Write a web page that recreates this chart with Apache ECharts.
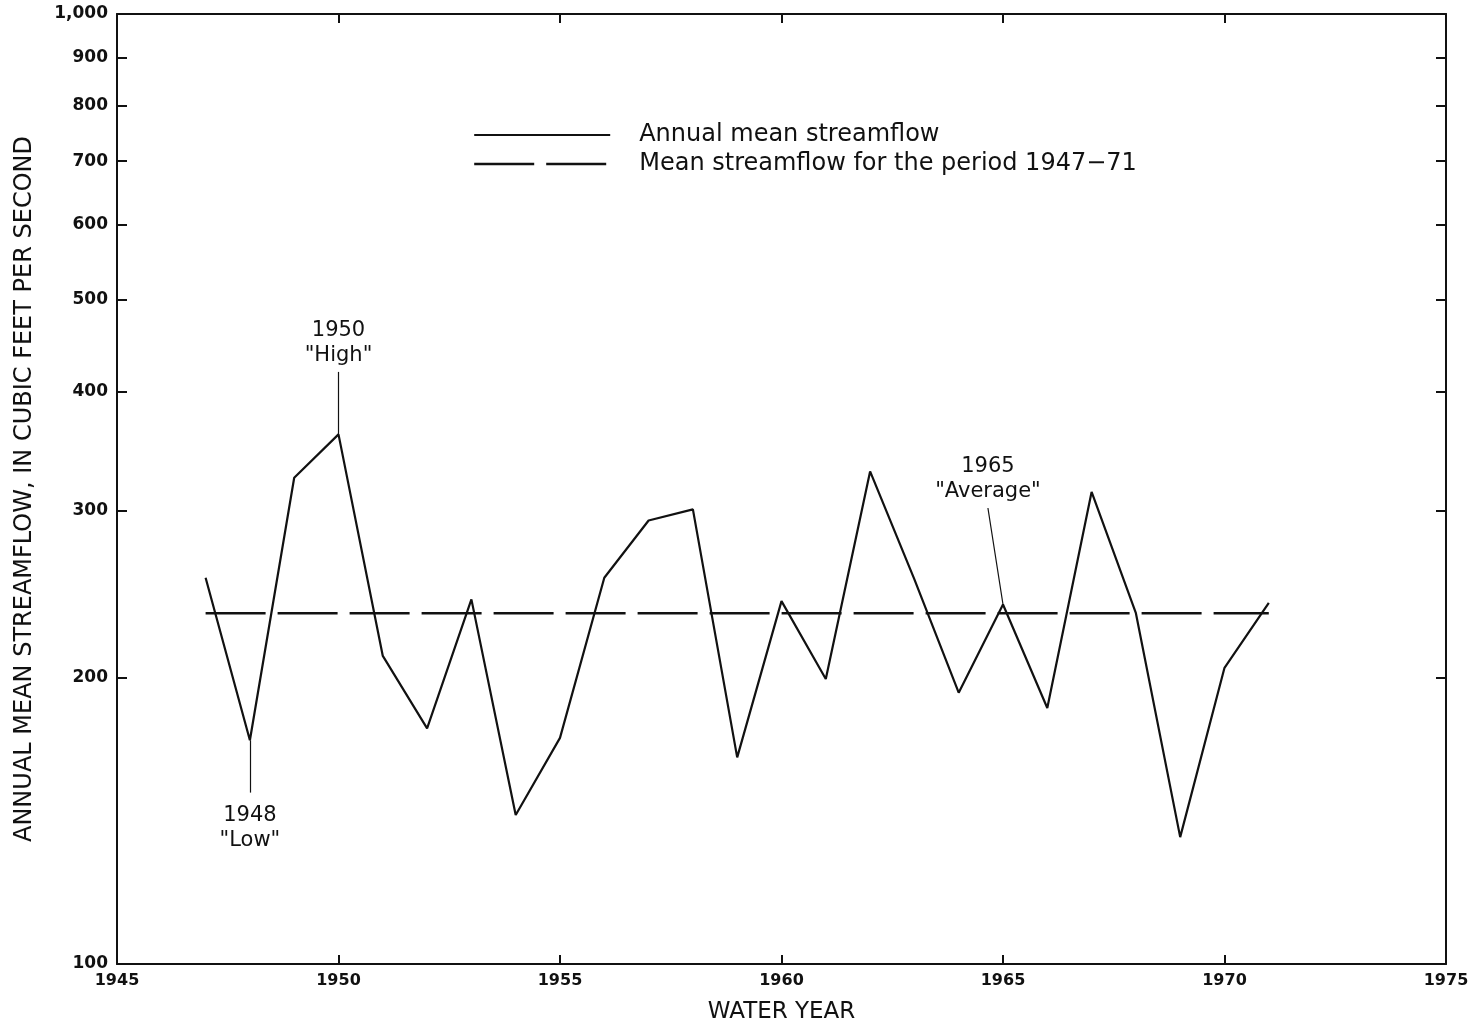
<!DOCTYPE html>
<html>
<head>
<meta charset="utf-8">
<script src="https://cdn.jsdelivr.net/npm/echarts@6/dist/echarts.min.js"></script>
<style>html,body{margin:0;padding:0;background:#fff;}#c{width:1476px;height:1029px;}</style>
</head>
<body>
<div id="c"></div>
<script>
// ---- data ----
var years = [1947,1948,1949,1950,1951,1952,1953,1954,1955,1956,1957,1958,1959,1960,1961,1962,1963,1964,1965,1966,1967,1968,1969,1970,1971];
var annualMean = [255,172,325,361,211,177,242,143.5,173,255,293,301,165,241,199.5,330,254,193,239,186,314,234,136,205,240];
var periodYears = [1947, 1971];
var periodMean = 234;
var yTicks = [100,200,300,400,500,600,700,800,900,1000];
var xTicks = [1945,1950,1955,1960,1965,1970,1975];
var notes = [
  {text: '1950\n"High"', from: [1950, 361], to: [1950, 420], pos: 'top'},
  {text: '1948\n"Low"', from: [1948, 172], to: [1948, 151.5], pos: 'bottom'},
  {text: '1965\n"Average"', from: [1965, 239], to: [1964.66, 302], pos: 'top'}
];
var seriesNames = ['Annual mean streamflow', 'Mean streamflow for the period 1947\u221271'];

var chart = echarts.init(document.getElementById('c'));
var lineData = years.map(function (y, i) { return [y, annualMean[i]]; });
var meanData = periodYears.map(function (y) { return [y, periodMean]; });
var font = 'DejaVu Sans';
var dash = [60, 12];

function yFmt(v) { return v === 1000 ? '1,000' : String(v); }

var option = {
  animation: false,
  backgroundColor: '#fff',
  grid: {left: 117, right: 30, top: 14, bottom: 65},
  legend: {
    orient: 'vertical', left: 468, top: 118,
    itemWidth: 136, itemHeight: 14, itemGap: 5,
    itemStyle: {opacity: 0},
    textStyle: {fontFamily: font, fontSize: 24, color: '#111', padding: [0, 0, 0, 24]},
    data: [
      {name: seriesNames[0], lineStyle: {type: 'solid', width: 2.2, color: '#111'}},
      {name: seriesNames[1], lineStyle: {type: dash, width: 2.4, color: '#111'}}
    ]
  },
  xAxis: [{
    type: 'value', min: 1945, max: 1975, interval: 5, position: 'bottom',
    name: 'WATER YEAR', nameLocation: 'middle', nameGap: 37,
    nameTextStyle: {fontFamily: font, fontSize: 23, color: '#111'},
    axisLine: {show: true, lineStyle: {color: '#111', width: 2}},
    axisTick: {show: true, inside: true, length: 9, lineStyle: {color: '#111', width: 2}, customValues: xTicks},
    axisLabel: {fontFamily: font, fontWeight: 'bold', fontSize: 16, color: '#111', margin: 9, customValues: xTicks,
      formatter: function (v) { return String(v); }},
    splitLine: {show: false}
  }, {
    type: 'value', min: 1945, max: 1975, interval: 5, position: 'top',
    axisLine: {show: true, lineStyle: {color: '#111', width: 2}},
    axisTick: {show: true, inside: true, length: 9, lineStyle: {color: '#111', width: 2}, customValues: xTicks},
    axisLabel: {show: false},
    splitLine: {show: false}
  }],
  yAxis: [{
    type: 'log', logBase: 10, min: 100, max: 1000, position: 'left',
    name: 'ANNUAL MEAN STREAMFLOW, IN CUBIC FEET PER SECOND', nameLocation: 'middle', nameGap: 80, nameRotate: 90,
    nameTextStyle: {fontFamily: font, fontSize: 24, color: '#111'},
    axisLine: {show: true, lineStyle: {color: '#111', width: 2}},
    axisTick: {show: true, inside: true, length: 10, lineStyle: {color: '#111', width: 2}, customValues: yTicks},
    axisLabel: {fontFamily: font, fontWeight: 'bold', fontSize: 17, color: '#111', margin: 9, formatter: yFmt, customValues: yTicks},
    minorTick: {show: false},
    splitLine: {show: false}
  }, {
    type: 'log', logBase: 10, min: 100, max: 1000, position: 'right',
    axisLine: {show: true, lineStyle: {color: '#111', width: 2}},
    axisTick: {show: true, inside: true, length: 10, lineStyle: {color: '#111', width: 2}, customValues: yTicks},
    axisLabel: {show: false},
    splitLine: {show: false}
  }],
  series: [{
    name: seriesNames[0], type: 'line', data: lineData,
    symbol: 'none', smooth: false,
    lineStyle: {color: '#111', width: 2.2},
    itemStyle: {color: '#111'},
    markLine: {
      silent: true, symbol: ['none', 'none'],
      lineStyle: {color: '#111', width: 1.2, type: 'solid'},
      label: {show: false},
      data: notes.map(function (n) { return [{coord: n.from}, {coord: n.to}]; })
    },
    markPoint: {
      silent: true, symbol: 'circle', symbolSize: 0,
      data: notes.map(function (n) {
        return {coord: n.to, value: n.text,
          label: {show: true, position: n.pos, distance: n.pos === 'top' ? 4 : 10, formatter: n.text,
            fontFamily: font, fontSize: 21, lineHeight: 25, color: '#111', align: 'center'}};
      })
    }
  }, {
    name: seriesNames[1], type: 'line', data: meanData,
    symbol: 'none',
    lineStyle: {color: '#111', width: 2.4, type: dash},
    itemStyle: {color: '#111'}
  }]
};
chart.setOption(option);
</script>
</body>
</html>
